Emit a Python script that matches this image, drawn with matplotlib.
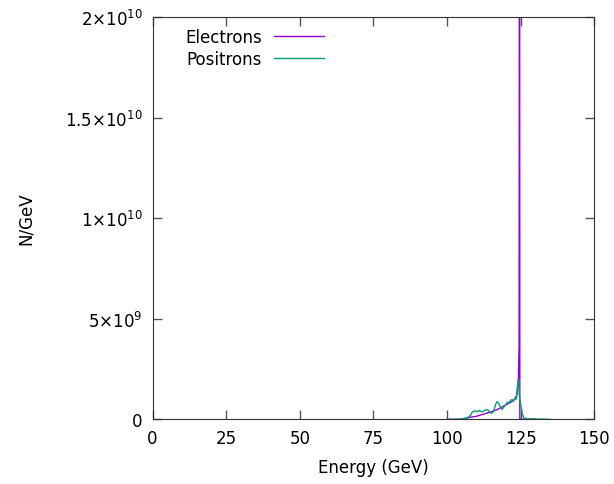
import matplotlib
matplotlib.use('Agg')
import matplotlib.pyplot as plt
import numpy as np

# spectrum near the 125 GeV beam energy
e_energy = [100, 102, 104, 106, 107.8, 110, 111.5, 113.5, 115.5, 117, 119.1, 120.5,
            121.5, 122.5, 123, 123.7, 124.2, 124.45, 124.6, 124.7, 126, 130]
e_counts = [0, 0, 5e6, 3e7, 1e8, 1.5e8, 2.2e8, 3.1e8, 4.0e8, 4.8e8, 6.5e8, 7.6e8,
            8.4e8, 9.2e8, 1.02e9, 1.2e9, 2.0e9, 3.6e9, 3.5e10, 0, 0, 0]

p_energy = [100, 104, 105, 106, 107, 108, 108.5, 109, 109.5, 110, 110.5, 111, 111.5,
            112, 112.5, 113, 113.5, 114, 114.5, 115, 115.5, 116, 116.5, 117, 117.5,
            118, 118.5, 119, 119.5, 120, 120.5, 121, 121.5, 122, 122.5, 123, 123.5,
            124, 124.25, 124.5, 125, 125.5, 126, 127, 128, 130, 133, 135]
p_counts = [0, 0, 2e7, 5e7, 8e7, 2e8, 3.5e8, 4e8, 4.2e8, 3.8e8, 4e8, 4.4e8, 3.9e8,
            3.8e8, 4.2e8, 4.6e8, 4.8e8, 4.5e8, 3.6e8, 3e8, 3.4e8, 5e8, 7.5e8, 8.8e8, 8e8,
            6.5e8, 5e8, 5.5e8, 6.5e8, 7.5e8, 8.5e8, 8.2e8, 9.3e8, 9.8e8, 9.2e8, 1.05e9, 1e9,
            1.75e9, 2e9, 1.2e9, 7.5e8, 3e8, 8e7, 3e7, 2e7, 1.5e7, 5e6, 0]

x_ticks = [0, 25, 50, 75, 100, 125, 150]
y_ticks = [0, 5e9, 1e10, 1.5e10, 2e10]
y_tick_labels = ['0', r'$5{\times}10^{9}$', r'$1{\times}10^{10}$',
                 r'$1.5{\times}10^{10}$', r'$2{\times}10^{10}$']

plt.rcParams['font.family'] = 'DejaVu Sans'
plt.rcParams['mathtext.fontset'] = 'dejavusans'
plt.rcParams['font.size'] = 12

fig = plt.figure(figsize=(6.14, 4.85), dpi=100)
ax = fig.add_axes([0.2484, 0.1334, 0.968 - 0.2484, 0.9629 - 0.1334])

ax.plot(e_energy, e_counts, color='#9400d3', lw=1, label='Electrons')
ax.plot(p_energy, p_counts, color='#009e73', lw=1, label='Positrons')

ax.set_xlim(0, 150)
ax.set_ylim(0, 2e10)
ax.set_xticks(x_ticks)
ax.set_yticks(y_ticks)
ax.set_yticklabels(y_tick_labels)
ax.tick_params(direction='in', length=6.5, width=1, top=True, right=True,
               color='#555555', pad=7)
for s in ax.spines.values():
    s.set_color('#333333')

ax.set_xlabel('Energy (GeV)', labelpad=8)
ax.set_ylabel('N/GeV', labelpad=22)

ax.legend(loc='upper left', bbox_to_anchor=(0.074, 0.973), frameon=False,
          markerfirst=False, handlelength=3.0, handletextpad=0.72, labelspacing=0.25,
          borderaxespad=0, borderpad=0)

fig.savefig('out.png', dpi=100)
